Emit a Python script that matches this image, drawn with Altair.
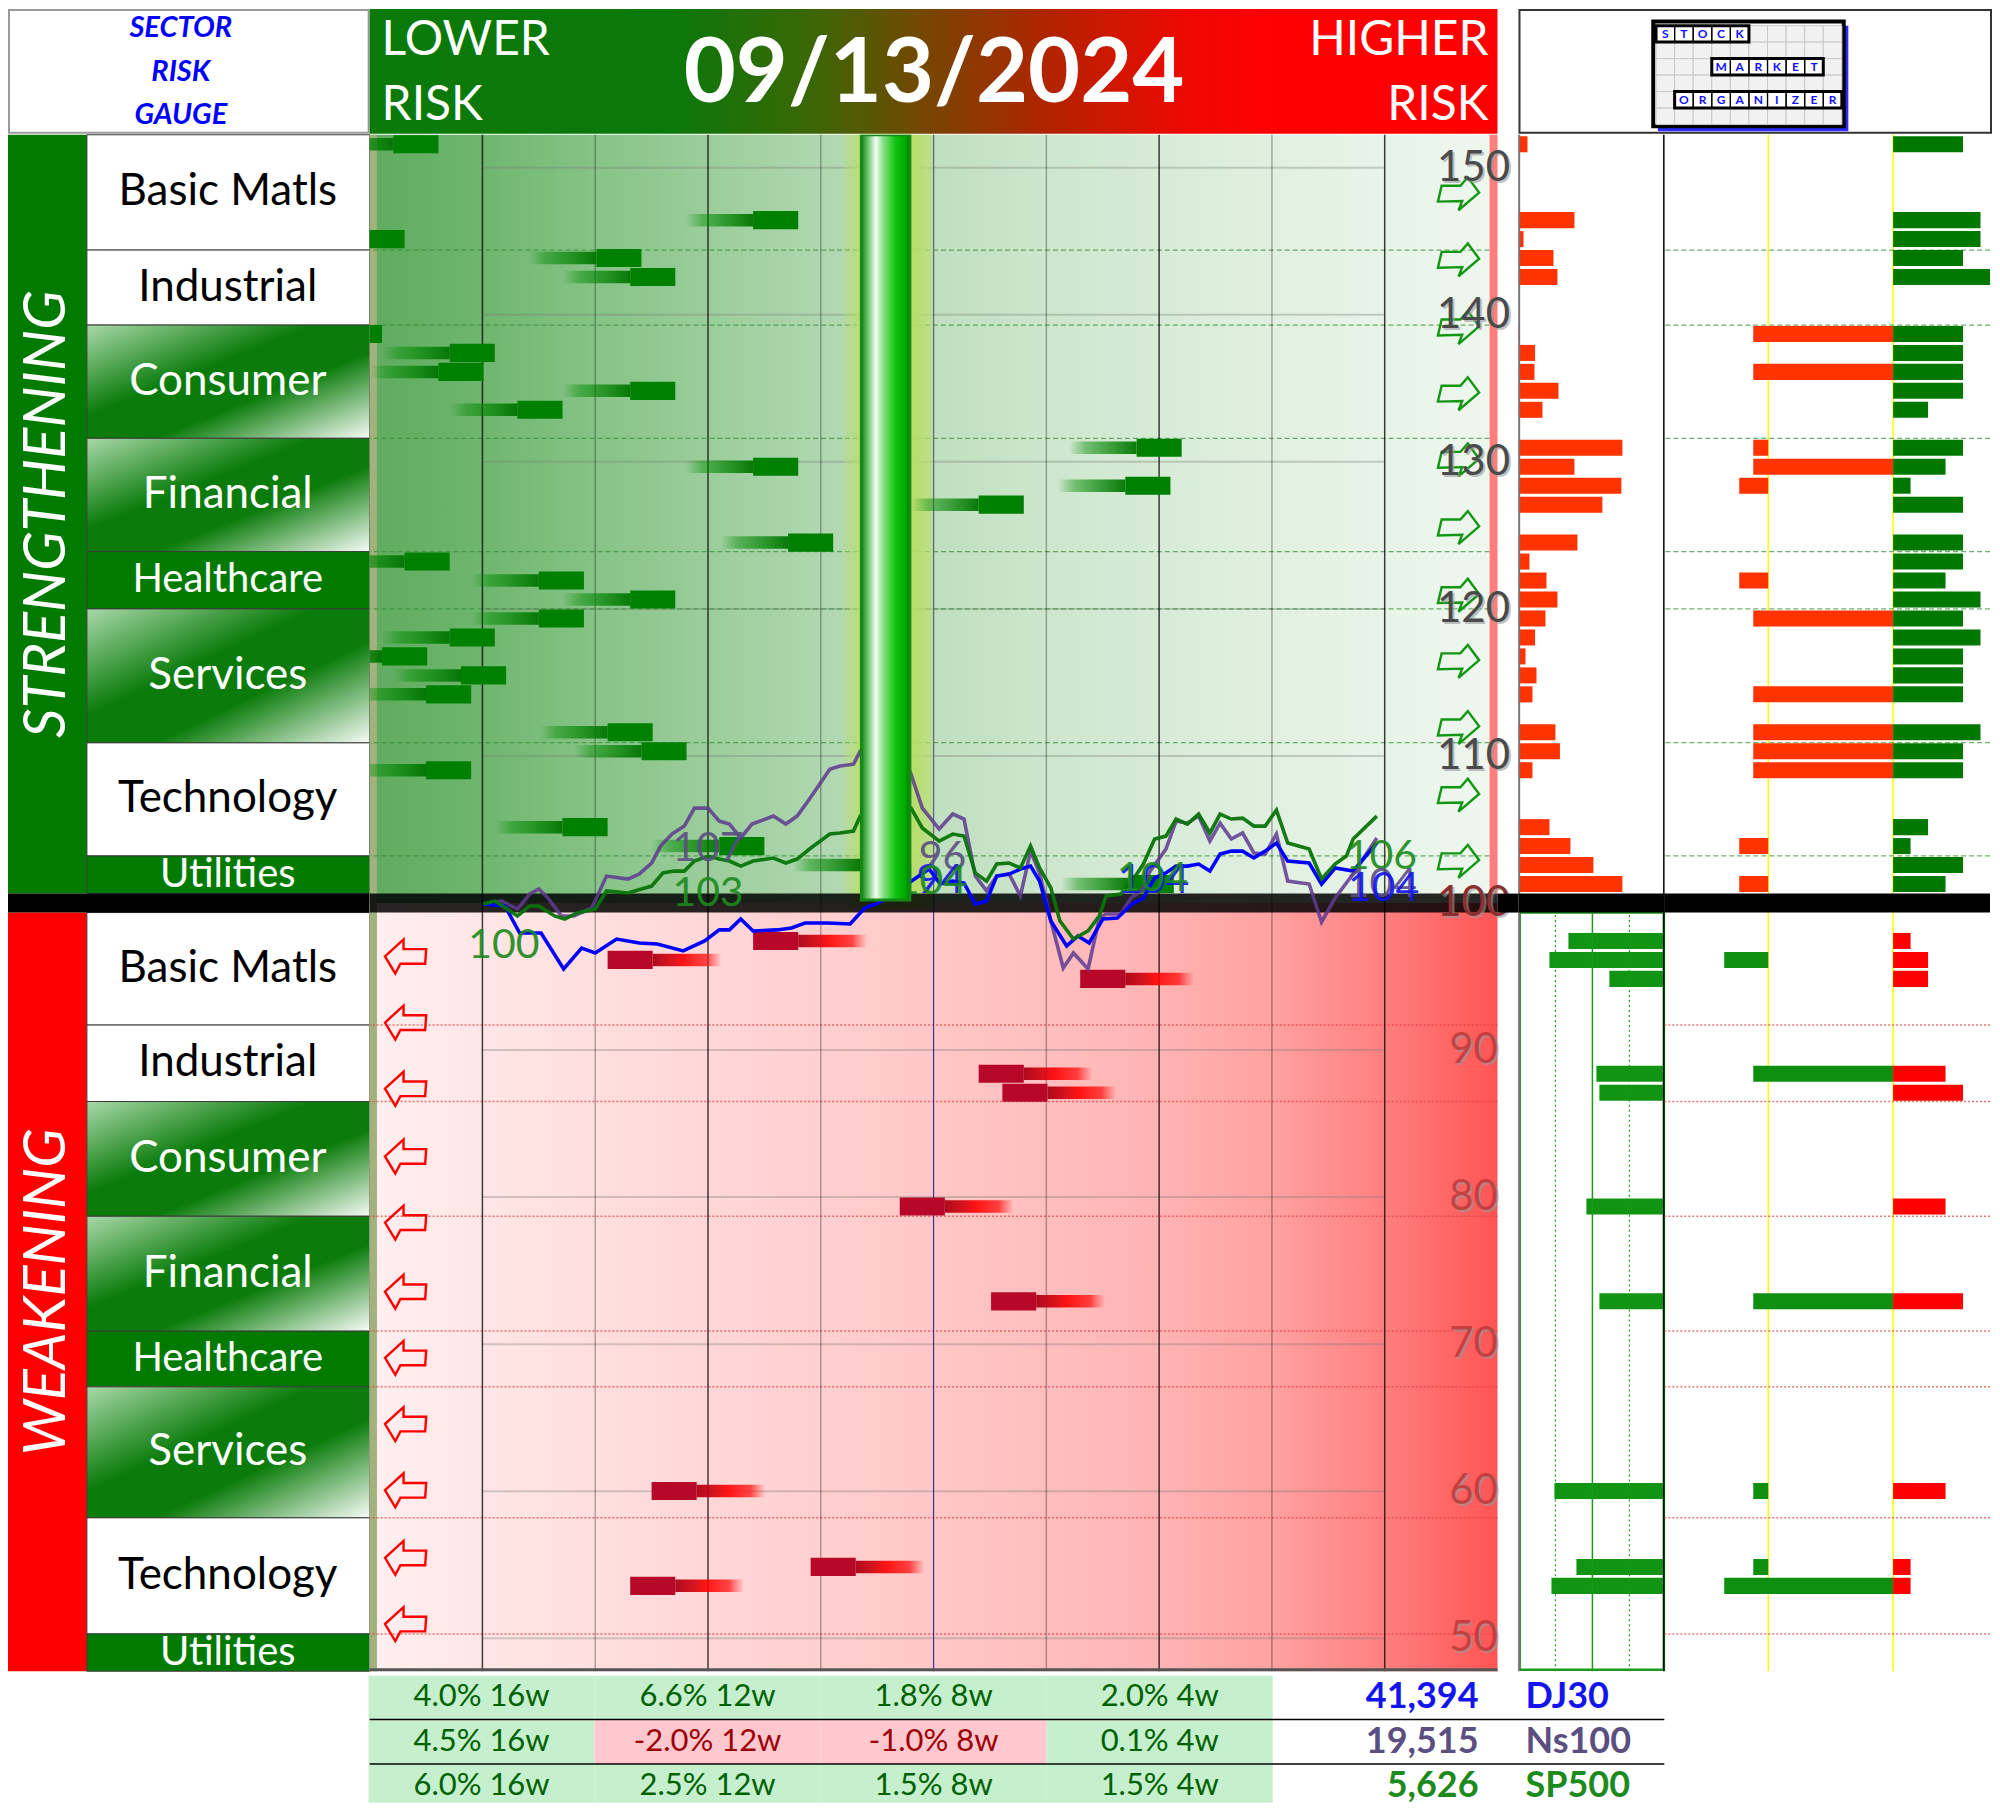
import altair as alt
import pandas as pd

FONT = "Lato"

# ---------------- layout (pixels) ----------------
W_LEFT, W_MAIN, W_GAP, W_RP1, W_RP2 = 362, 1129, 21, 146, 326
H_HEAD, H_MAIN, H_TAB = 125, 1538, 130

# ---------------- gauge geometry ----------------
Y_TOP, Y_BOT = 152.24, 47.76
NROWS = 81
ROW_H = (Y_TOP - Y_BOT) / NROWS
WEAK_OFFSET = 41
DIVIDER = [99.35, 100.64]

# ---------------- data ----------------
DATE_TEXT = "09/13/2024"
HEADER_LEFT = ["SECTOR", "RISK", "GAUGE"]

SECTORS = ["Basic Matls", "Industrial", "Consumer", "Financial", "Healthcare", "Services", "Technology", "Utilities"]
SECTOR_STYLE = ["white", "white", "grad", "grad", "solid", "grad", "white", "solid"]
STRONG_BOUNDS = [152.24, 144.4, 139.3, 131.6, 123.9, 120.0, 110.9, 103.2, 100.64]
WEAK_BOUNDS = [99.35, 91.7, 86.5, 78.7, 70.9, 67.1, 58.2, 50.3, 47.76]

GAUGE_TICKS = [150, 140, 130, 120, 110, 100, 90, 80, 70, 60, 50]
GRID_X = [0, 1, 2, 3, 4, 5, 6, 7, 8]
GRID_KIND = ["major", "minor", "major", "minor", "mid", "minor", "major", "minor", "major"]

# strengthening items (row, gauge position, risk bar, score bar)
S_ROW = [0, 4, 5, 6, 7, 10, 11, 12, 13, 14, 16, 17, 18, 19, 21, 22, 23, 24, 25, 26, 27, 28, 29, 31, 32, 33, 36, 37, 38, 39]
S_POS = [-0.79, 2.40, -1.09, 1.01, 1.31, -1.29, -0.29, -0.39, 1.31, 0.31, 5.80, 2.40, 5.70, 4.40, 2.71, -0.69, 0.50,
         1.31, 0.50, -0.29, -0.89, -0.19, -0.50, 1.11, 1.41, -0.50, 0.71, 2.10, 3.35, 5.73]
S_RISK = [0.9, 5.6, 0.5, 3.5, 3.9, 0.15, 1.66, 1.6, 4.0, 2.4, 10.4, 5.6, 10.3, 8.4, 5.9, 1.1, 2.8, 3.9, 2.7, 1.66,
          0.7, 1.8, 1.4, 3.7, 4.15, 1.4, 3.1, 5.2, 7.5, 10.4]
S_SCORE = [4, 5, 5, 4, 6, 4, 4, 4, 4, 2, 4, 3, 1, 4, 4, 4, 3, 5, 4, 5, 4, 4, 4, 5, 4, 4, 2, 1, 4, 3]
S_NEG_ROW = [10, 12, 16, 17, 18, 23, 25, 29, 31, 32, 33, 37, 39]
S_NEG_FROM = [-8.0, -8.0, -8.0, -8.0, -8.8, -8.8, -8.0, -8.0, -8.0, -8.0, -8.0, -8.8, -8.8]
S_NEG_TO = [0, 0, -7.14, 0, -7.14, -7.14, 0, 0, 0, 0, 0, -7.14, -7.14]

# weakening items
W_ROW = [1, 2, 3, 8, 9, 15, 20, 30, 34, 35]
W_POS = [2.40, 1.11, 5.30, 4.40, 4.61, 3.70, 4.51, 1.50, 2.91, 1.31]
W_RISK = [9.6, 11.5, 5.5, 6.8, 6.5, 7.8, 6.5, 11.0, 8.8, 11.3]
W_SCORE = [1, 2, 2, 3, 4, 3, 4, 3, 1, 1]
W_NEG_ROW = [2, 8, 20, 30, 34, 35]
W_NEG_FROM = [-9.66, -8.0, -8.0, -8.0, -8.0, -9.66]
W_NEG_TO = [-7.14, 0, 0, -7.14, -7.14, 0]

GAUGE_READING = 152.24
GAUGE_BASE = 100.2
GAUGE_SPAN = [3.36, 3.79]
GLOW_SPAN = [3.2, 4.0]
YELLOW_MARKS = [-7.14, 0]

ARROW_UP_Y = [148.2, 143.7, 139.1, 134.6, 130.1, 125.5, 120.9, 116.4, 111.9, 107.3, 102.8]
ARROW_DN_Y = [96.4, 91.9, 87.4, 82.8, 78.3, 73.6, 69.1, 64.6, 60.1, 55.5, 51.0]

NS_X = [0.01, 0.17, 0.31, 0.42, 0.50, 0.58, 0.70, 0.81, 0.97, 1.10, 1.29, 1.39, 1.50, 1.58, 1.68, 1.79, 1.88, 2.00,
        2.10, 2.19, 2.29, 2.39, 2.58, 2.69, 2.79, 2.90, 3.08, 3.17, 3.29, 3.35, 3.52, 3.70, 3.80, 3.90, 4.05, 4.17,
        4.27, 4.37, 4.47, 4.56, 4.67, 4.77, 4.86, 4.94, 5.04, 5.15, 5.24, 5.37, 5.47, 5.53, 5.66, 5.75, 5.84, 5.92,
        6.06, 6.15, 6.25, 6.35, 6.45, 6.54, 6.64, 6.74, 6.84, 6.94, 7.04, 7.14, 7.33, 7.44, 7.56, 7.72, 7.93]
NS_Y = [99.93, 100.14, 99.59, 100.61, 100.95, 100.34, 99.12, 99.12, 99.66, 101.83, 101.63, 101.97, 102.72, 103.87,
        104.69, 105.23, 106.45, 106.45, 105.57, 105.37, 104.42, 105.37, 105.91, 105.37, 105.91, 107.07, 109.10,
        109.31, 109.44, 110.33, 111.0, 110.3, 108.76, 106.45, 105.03, 106.05, 105.71, 101.83, 100.82, 101.83,
        101.97, 100.48, 103.53, 102.04, 98.78, 95.58, 96.60, 95.52, 98.98, 99.25, 99.25, 100.34, 100.82, 102.17,
        103.67, 105.57, 105.43, 105.91, 104.21, 105.43, 104.35, 104.76, 103.40, 103.33, 104.69, 101.49, 101.29,
        98.71, 100.34, 101.97, 104.42]
SP_X = [0.01, 0.11, 0.31, 0.42, 0.50, 0.64, 0.73, 0.84, 1.00, 1.10, 1.29, 1.50, 1.60, 1.70, 1.79, 1.88, 2.00, 2.10,
        2.19, 2.29, 2.40, 2.58, 2.69, 2.79, 2.90, 3.08, 3.17, 3.29, 3.35, 3.56, 3.80, 3.90, 4.05, 4.17, 4.27, 4.37,
        4.47, 4.56, 4.67, 4.77, 4.86, 4.94, 5.04, 5.12, 5.24, 5.37, 5.47, 5.53, 5.66, 5.76, 5.86, 5.96, 6.06, 6.15,
        6.25, 6.35, 6.45, 6.54, 6.64, 6.74, 6.84, 6.94, 7.04, 7.14, 7.33, 7.44, 7.56, 7.66, 7.72, 7.93]
SP_Y = [99.93, 100.14, 99.12, 99.80, 99.80, 99.12, 98.91, 99.32, 99.59, 100.82, 100.68, 101.15, 102.04, 102.17,
        102.17, 102.85, 103.19, 102.99, 102.85, 102.51, 102.85, 103.06, 102.72, 102.99, 103.67, 104.69, 104.76,
        104.89, 105.91, 106.9, 106.45, 105.10, 104.21, 104.69, 104.55, 102.04, 101.49, 102.65, 102.72, 102.38,
        103.87, 102.38, 101.02, 98.78, 97.55, 98.10, 99.12, 100.48, 100.61, 101.49, 102.65, 104.35, 104.55, 105.71,
        105.37, 106.05, 104.76, 106.05, 105.71, 105.77, 105.23, 105.23, 106.32, 104.08, 103.67, 101.63, 102.65,
        103.19, 104.35, 105.91]
DJ_X = [0.01, 0.20, 0.33, 0.52, 0.72, 0.88, 1.00, 1.19, 1.39, 1.55, 1.78, 1.97, 2.10, 2.19, 2.29, 2.40, 2.61, 2.74,
        2.86, 3.06, 3.26, 3.39, 3.51, 3.74, 3.96, 4.06, 4.17, 4.27, 4.37, 4.47, 4.56, 4.67, 4.77, 4.86, 4.94, 5.04,
        5.18, 5.28, 5.38, 5.50, 5.63, 5.76, 5.86, 5.96, 6.06, 6.15, 6.25, 6.35, 6.45, 6.54, 6.64, 6.74, 6.84, 6.94,
        7.04, 7.14, 7.33, 7.44, 7.56, 7.72, 7.93]
DJ_Y = [99.93, 99.80, 97.96, 97.96, 95.52, 96.94, 96.60, 97.55, 97.28, 97.21, 96.74, 97.42, 98.17, 98.17, 98.91,
        98.10, 98.17, 98.30, 98.64, 98.64, 98.57, 99.66, 100.0, 101.15, 102.31, 101.29, 101.49, 101.36, 99.93,
        100.14, 101.83, 101.97, 102.31, 102.51, 101.49, 98.78, 97.08, 97.76, 97.28, 98.91, 98.98, 99.93, 100.34,
        101.70, 102.04, 102.51, 102.51, 102.65, 102.17, 103.33, 103.53, 103.53, 103.06, 103.53, 104.08, 102.85,
        102.72, 101.29, 102.38, 102.17, 104.08]

LBL_TEXT = ["100", "107", "103", "96", "94", "104", "104", "104", "106", "104", "104"]
LBL_X = [0.19, 2.0, 2.0, 4.08, 4.06, 3.98, 5.95, 5.94, 7.97, 7.97, 7.99]
LBL_Y = [97.1, 103.7, 100.6, 103.06, 101.5, 101.4, 101.5, 101.6, 103.1, 101.2, 100.95]
LBL_SERIES = ["SP500", "Ns100", "SP500", "Ns100", "DJ30", "SP500", "DJ30", "SP500", "SP500", "Ns100", "DJ30"]

PERIODS = ["16w", "12w", "8w", "4w"]
INDEX_NAMES = ["DJ30", "Ns100", "SP500"]
INDEX_LAST = [41394, 19515, 5626]
INDEX_COLORS = ["#0000ff", "#7030a0", "#008000"]
CHANGES = {"DJ30": [4.0, 6.6, 1.8, 2.0], "Ns100": [4.5, -2.0, -1.0, 0.1], "SP500": [6.0, 2.5, 1.5, 1.5]}

LOGO_WORDS = ["STOCK", "MARKET", "ORGANIZER"]
LOGO_ROW = [0, 2, 4]
LOGO_COL = [0, 3, 1]


# ---------------- helpers ----------------
def one(**kw):
    return pd.DataFrame({k: [v] for k, v in kw.items()})


def grad(stops, x1=0, y1=0, x2=1, y2=0):
    return alt.LinearGradient(gradient="linear", x1=x1, y1=y1, x2=x2, y2=y2,
                              stops=[alt.GradientStop(offset=o, color=c) for o, c in stops])


YS = alt.Scale(domain=[Y_BOT, Y_TOP], nice=False, zero=False)


def Yq(f):
    return alt.Y(f"{f}:Q", scale=YS, axis=None)


def make_x(scale):
    return lambda f: alt.X(f"{f}:Q", scale=scale, axis=None)


def row_top(offset=0):
    return f"{Y_TOP} - {ROW_H:.6f} * (datum.row + {offset})"


def band(x0, x1, opacity=1.0):
    return alt.Chart(one(y0=DIVIDER[0], y1=DIVIDER[1])).mark_rect(color="#000000", opacity=opacity).encode(
        x=alt.value(x0), x2=alt.value(x1), y=Yq("y0"), y2="y1")


G_STRONG = grad([(0, "#5fab5f"), (0.1, "#6fb66f"), (0.2, "#86c386"), (0.3, "#9bcd9b"), (0.4, "#afd7af"),
                 (0.5, "#bfdfbf"), (0.6, "#cde6cd"), (0.7, "#d7ebd7"), (0.8, "#e0f0e0"), (0.9, "#e8f4e8"),
                 (1, "#eff7ef")])
G_WEAK = grad([(0, "#ffefef"), (0.1, "#ffe6e6"), (0.2, "#ffdede"), (0.3, "#ffd7d7"), (0.4, "#ffcfcf"),
               (0.5, "#ffc7c7"), (0.6, "#ffbebe"), (0.7, "#ffb3b3"), (0.8, "#ffa1a1"), (0.9, "#ff7f7f"),
               (1, "#ff5454")])
G_TAIL_S = grad([(0, "rgba(0,140,0,0)"), (0.25, "rgba(0,140,0,0.45)"), (0.6, "rgba(0,130,0,0.7)"),
                 (1, "rgba(0,115,0,0.95)")])
G_TAIL_W = grad([(0, "rgba(170,0,20,0.95)"), (0.3, "rgba(215,0,10,0.9)"), (0.45, "rgba(255,0,0,0.9)"),
                 (0.8, "rgba(255,20,20,0.75)"), (1, "rgba(255,60,60,0.1)")])
G_BAR = grad([(0, "#157f15"), (0.12, "#5fbf5f"), (0.3, "#f4fff4"), (0.45, "#86e086"), (0.7, "#10c410"),
              (0.9, "#00aa00"), (1, "#007a00")])
G_GLOW = grad([(0, "rgba(185,222,105,0.15)"), (0.2, "rgba(185,222,105,0.95)"), (0.8, "rgba(185,222,105,0.95)"),
               (1, "rgba(185,222,105,0.5)")])
G_CELL = grad([(0, "#a9d8a9"), (0.4, "#0b7c0b"), (0.62, "#0b7c0b"), (1, "#f7fcf7")], 0, 0, 1, 1)
G_BANNER = grad([(0, "#0a7a0a"), (0.27, "#0b780a"), (0.4, "#3f6505"), (0.5, "#7a4400"), (0.6, "#b02400"),
                 (0.72, "#ee0900"), (0.8, "#ff0000"), (1, "#ff0000")])

RIGHT_ARROW = "M-0.82,-0.41 L0.09,-0.41 L0.45,-0.82 L1,-0.08 L0,0.78 L0.18,0.33 L-1,0.36 Z"
LEFT_ARROW = "M-1,0.02 L-0.1,-0.8 L-0.1,-0.33 L1,-0.33 L0.95,0.38 L-0.25,0.38 L-0.5,0.85 Z"

s_df = pd.DataFrame({"row": S_ROW, "pos": S_POS, "risk": S_RISK, "score": S_SCORE})
w_df = pd.DataFrame({"row": W_ROW, "pos": W_POS, "risk": W_RISK, "score": W_SCORE})
s_neg = pd.DataFrame({"row": S_NEG_ROW, "a": S_NEG_FROM, "b": S_NEG_TO})
w_neg = pd.DataFrame({"row": W_NEG_ROW, "a": W_NEG_FROM, "b": W_NEG_TO})

# ================= main gauge plot =================
XM = alt.Scale(domain=[-1, 9], nice=False, zero=False)
Xm = make_x(XM)
L = []
L.append(alt.Chart(one(x0=-1, x1=9, y0=100.0, y1=Y_TOP)).mark_rect(color=G_STRONG).encode(
    x=Xm("x0"), x2="x1", y=Yq("y0"), y2="y1"))
L.append(alt.Chart(one(x0=-1, x1=9, y0=Y_BOT, y1=100.0)).mark_rect(color=G_WEAK).encode(
    x=Xm("x0"), x2="x1", y=Yq("y0"), y2="y1"))
L.append(alt.Chart(one(x0=-1, x1=-0.935, y0=Y_BOT, y1=Y_TOP)).mark_rect(color="#a2b27d").encode(
    x=Xm("x0"), x2="x1", y=Yq("y0"), y2="y1"))
L.append(alt.Chart(pd.DataFrame({"v": [t for t in GAUGE_TICKS if t != 100]})).transform_calculate(
    xa="0", xb="8").mark_rule(color="#7a7a7a", opacity=0.35, strokeWidth=2).encode(
    y=Yq("v"), x=Xm("xa"), x2="xb"))
L.append(alt.Chart(pd.DataFrame({"v": STRONG_BOUNDS[1:-1]})).mark_rule(
    color="#2f8f2f", opacity=0.7, strokeWidth=1.2, strokeDash=[5, 3]).encode(y=Yq("v")))
L.append(alt.Chart(pd.DataFrame({"v": WEAK_BOUNDS[1:-1]})).mark_rule(
    color="#e23a3a", opacity=0.7, strokeWidth=1.5, strokeDash=[2, 2]).encode(y=Yq("v")))
grid_df = pd.DataFrame({"x": GRID_X, "kind": GRID_KIND})
L.append(alt.Chart(grid_df).transform_filter("datum.kind == 'major'").mark_rule(
    color="#000000", opacity=0.75, strokeWidth=1.5).encode(x=Xm("x")))
L.append(alt.Chart(grid_df).transform_filter("datum.kind == 'minor'").mark_rule(
    color="#000000", opacity=0.3, strokeWidth=1.5).encode(x=Xm("x")))
L.append(alt.Chart(grid_df).transform_filter("datum.kind == 'mid'").mark_rule(
    color="#2a1f9a", opacity=0.9, strokeWidth=1.2).encode(x=Xm("x")))
L.append(alt.Chart(one(x0=8.93, x1=9, y0=DIVIDER[1], y1=Y_TOP)).mark_rect(color="#ff7d7d").encode(
    x=Xm("x0"), x2="x1", y=Yq("y0"), y2="y1"))
L.append(alt.Chart(one(x0=GLOW_SPAN[0], x1=GLOW_SPAN[1], y0=99.6, y1=Y_TOP)).mark_rect(color=G_GLOW).encode(
    x=Xm("x0"), x2="x1", y=Yq("y0"), y2="y1"))
# strengthening sector markers
L.append(alt.Chart(s_df).transform_calculate(rt=row_top(0)).transform_calculate(
    xa="datum.pos - 0.6", xb="datum.pos", ya="datum.rt - 0.22", yb="datum.rt - 1.07").mark_rect(
    color=G_TAIL_S, clip=True).encode(x=Xm("xa"), x2="xb", y=Yq("ya"), y2="yb"))
L.append(alt.Chart(s_df).transform_calculate(rt=row_top(0)).transform_calculate(
    xa="datum.pos", xb="datum.pos + 0.4", ya="datum.rt - 0.03", yb="datum.rt - 1.26").mark_rect(
    color="#008000", clip=True).encode(x=Xm("xa"), x2="xb", y=Yq("ya"), y2="yb"))
# weakening sector markers
L.append(alt.Chart(w_df).transform_calculate(rt=row_top(WEAK_OFFSET)).transform_calculate(
    xa="datum.pos + 0.4", xb="datum.pos + 1.0", ya="datum.rt - 0.22", yb="datum.rt - 1.07").mark_rect(
    color=G_TAIL_W, clip=True).encode(x=Xm("xa"), x2="xb", y=Yq("ya"), y2="yb"))
L.append(alt.Chart(w_df).transform_calculate(rt=row_top(WEAK_OFFSET)).transform_calculate(
    xa="datum.pos", xb="datum.pos + 0.4", ya="datum.rt - 0.03", yb="datum.rt - 1.26").mark_rect(
    color="#b8082a", clip=True).encode(x=Xm("xa"), x2="xb", y=Yq("ya"), y2="yb"))
# arrows
L.append(alt.Chart(pd.DataFrame({"v": ARROW_UP_Y})).mark_point(
    shape=RIGHT_ARROW, size=1700, filled=False, strokeWidth=2.4, color="#139613", opacity=1).encode(
    x=alt.value(1090), y=Yq("v")))
L.append(alt.Chart(pd.DataFrame({"v": ARROW_DN_Y})).mark_point(
    shape=LEFT_ARROW, size=1700, filled=False, strokeWidth=2.4, color="#ff0000", opacity=1).encode(
    x=alt.value(36), y=Yq("v")))
# divider band
L.append(alt.Chart(one(x0=-1, x1=9, y0=DIVIDER[0], y1=DIVIDER[1])).mark_rect(
    color="#000000", opacity=0.85).encode(x=Xm("x0"), x2="x1", y=Yq("y0"), y2="y1"))
# gauge scale labels
tick_df = pd.DataFrame({"v": GAUGE_TICKS})
L.append(alt.Chart(tick_df).mark_text(font=FONT, fontSize=42, color="#9a9a9a", opacity=0.6, dx=2, dy=2).encode(
    x=alt.value(1105), y=Yq("v"), text=alt.Text("v:Q", format="d")))
L.append(alt.Chart(tick_df).transform_filter("datum.v > 100").mark_text(
    font=FONT, fontSize=42, color="#4a4a4a").encode(x=alt.value(1105), y=Yq("v"), text=alt.Text("v:Q", format="d")))
L.append(alt.Chart(tick_df).transform_filter("datum.v == 100").mark_text(
    font=FONT, fontSize=42, color="#8a2f2f").encode(x=alt.value(1105), y=Yq("v"), text=alt.Text("v:Q", format="d")))
L.append(alt.Chart(tick_df).transform_filter("datum.v < 100").mark_text(
    font=FONT, fontSize=42, color="#b83232", opacity=0.75).encode(
    x=alt.value(1105), y=Yq("v"), text=alt.Text("v:Q", format="d")))
# index lines
for xs, ys, col, op in [(NS_X, NS_Y, "#5e3a90", 0.85), (DJ_X, DJ_Y, "#0000ff", 1.0), (SP_X, SP_Y, "#087408", 0.95)]:
    L.append(alt.Chart(pd.DataFrame({"x": xs, "y": ys})).mark_line(
        color=col, opacity=op, strokeWidth=3.6, clip=True).encode(x=Xm("x"), y=Yq("y")))
lbl_df = pd.DataFrame({"t": LBL_TEXT, "x": LBL_X, "y": LBL_Y, "s": LBL_SERIES})
L.append(alt.Chart(lbl_df).mark_text(font=FONT, fontSize=41, opacity=0.9).encode(
    x=Xm("x"), y=Yq("y"), text="t:N",
    color=alt.Color("s:N", scale=alt.Scale(domain=INDEX_NAMES, range=["#1414f0", "#5a4f80", "#1c8a1c"]),
                    legend=None)))
# big gauge bar
L.append(alt.Chart(one(x0=GAUGE_SPAN[0], x1=GAUGE_SPAN[1], y0=GAUGE_BASE, y1=GAUGE_READING)).mark_rect(
    color=G_BAR, stroke="#138a13", strokeWidth=3, clip=True).encode(x=Xm("x0"), x2="x1", y=Yq("y0"), y2="y1"))
L.append(alt.Chart(one(x0=-1, x1=9, y0=Y_BOT, y1=Y_BOT + 0.2)).mark_rect(color="#555555").encode(
    x=Xm("x0"), x2="x1", y=Yq("y0"), y2="y1"))
B2 = alt.layer(*L).properties(width=W_MAIN, height=H_MAIN)

# ================= sector label column =================
sec_rows = []
for i, name in enumerate(SECTORS):
    sec_rows.append({"name": name, "style": SECTOR_STYLE[i], "y0": STRONG_BOUNDS[i + 1], "y1": STRONG_BOUNDS[i]})
    sec_rows.append({"name": name, "style": SECTOR_STYLE[i], "y0": WEAK_BOUNDS[i + 1], "y1": WEAK_BOUNDS[i]})
sec_df = pd.DataFrame(sec_rows)
LB = []
LB.append(alt.Chart(one(y0=STRONG_BOUNDS[-1], y1=STRONG_BOUNDS[0])).mark_rect(color="#007a00").encode(
    x=alt.value(0), x2=alt.value(79), y=Yq("y0"), y2="y1"))
LB.append(alt.Chart(one(y0=WEAK_BOUNDS[-1], y1=WEAK_BOUNDS[0])).mark_rect(color="#ff0000").encode(
    x=alt.value(0), x2=alt.value(79), y=Yq("y0"), y2="y1"))
for style, fill in [("white", "#ffffff"), ("solid", "#007a00"), ("grad", G_CELL)]:
    LB.append(alt.Chart(sec_df).transform_filter(f"datum.style == '{style}'").mark_rect(
        color=fill, stroke="#3a3a3a", strokeWidth=1).encode(
        x=alt.value(79), x2=alt.value(W_LEFT), y=Yq("y0"), y2="y1"))
for cond, col, size in [("datum.style == 'white'", "#000000", 44), ("datum.style == 'grad'", "#ffffff", 44),
                        ("datum.style == 'solid'", "#ffffff", 40)]:
    LB.append(alt.Chart(sec_df).transform_filter(cond).transform_calculate(ym="(datum.y0 + datum.y1) / 2").mark_text(
        font=FONT, fontSize=size, color=col).encode(x=alt.value(220), y=Yq("ym"), text="name:N"))
side_df = pd.DataFrame({"t": ["STRENGTHENING", "WEAKENING"],
                        "y": [(STRONG_BOUNDS[0] + STRONG_BOUNDS[-1]) / 2, (WEAK_BOUNDS[0] + WEAK_BOUNDS[-1]) / 2]})
LB.append(alt.Chart(side_df).mark_text(font=FONT, fontSize=58, fontStyle="italic", color="#ffffff", angle=270).encode(
    x=alt.value(40), y=Yq("y"), text="t:N"))
LB.append(band(0, W_LEFT))
B1 = alt.layer(*LB).properties(width=W_LEFT, height=H_MAIN)

B3 = band(0, W_GAP).properties(width=W_GAP, height=H_MAIN)

# ================= right panel: risk bars =================
XC1 = alt.Scale(domain=[0, 14.6], nice=False, zero=False)
Xc1 = make_x(XC1)
C1L = []
C1L.append(alt.Chart(s_df).transform_calculate(rt=row_top(0)).transform_calculate(
    xa="0", xb="datum.risk", ya="datum.rt - 0.1", yb="datum.rt - 1.19").mark_rect(color="#ff3300").encode(
    x=Xc1("xa"), x2="xb", y=Yq("ya"), y2="yb"))
C1L.append(alt.Chart(w_df).transform_calculate(rt=row_top(WEAK_OFFSET)).transform_calculate(
    xa="14.6 - datum.risk", xb="14.6", ya="datum.rt - 0.1", yb="datum.rt - 1.19").mark_rect(
    color="#119411").encode(x=Xc1("xa"), x2="xb", y=Yq("ya"), y2="yb"))
vl_df = pd.DataFrame({"x": [3.7, 7.4, 11.1], "kind": ["dot", "solid", "dot"], "y0": [Y_BOT] * 3,
                      "y1": [DIVIDER[0]] * 3})
C1L.append(alt.Chart(vl_df).transform_filter("datum.kind == 'dot'").mark_rule(
    color="#1a9a1a", strokeWidth=1.2, strokeDash=[2, 3]).encode(x=Xc1("x"), y=Yq("y0"), y2="y1"))
C1L.append(alt.Chart(vl_df).transform_filter("datum.kind == 'solid'").mark_rule(
    color="#1a9a1a", strokeWidth=1.5).encode(x=Xc1("x"), y=Yq("y0"), y2="y1"))
C1L.append(alt.Chart(one(x0=0.12, x1=14.55, y0=Y_BOT + 0.1, y1=DIVIDER[0])).mark_rect(
    fillOpacity=0, stroke="#1a9a1a", strokeWidth=2.5).encode(x=Xc1("x0"), x2="x1", y=Yq("y0"), y2="y1"))
C1L.append(alt.Chart(one(x=0.07)).mark_rule(color="#777777", strokeWidth=2).encode(x=Xc1("x")))
C1L.append(alt.Chart(one(x=14.55)).mark_rule(color="#000000", strokeWidth=1.5).encode(x=Xc1("x")))
C1L.append(band(0, W_RP1))
C1 = alt.layer(*C1L).properties(width=W_RP1, height=H_MAIN)

# ================= right panel: score bars =================
XC2 = alt.Scale(domain=[-13.086, 5.543], nice=False, zero=False)
Xc2 = make_x(XC2)
C2L = []
C2L.append(alt.Chart(pd.DataFrame({"x": YELLOW_MARKS})).mark_rule(color="#ffff00", strokeWidth=1.5).encode(
    x=Xc2("x")))
C2L.append(alt.Chart(pd.DataFrame({"v": STRONG_BOUNDS[1:-1]})).mark_rule(
    color="#2f8f2f", opacity=0.7, strokeWidth=1.2, strokeDash=[5, 3]).encode(y=Yq("v")))
C2L.append(alt.Chart(pd.DataFrame({"v": WEAK_BOUNDS[1:-1]})).mark_rule(
    color="#e23a3a", opacity=0.7, strokeWidth=1.5, strokeDash=[2, 2]).encode(y=Yq("v")))
C2L.append(alt.Chart(s_neg).transform_calculate(rt=row_top(0)).transform_calculate(
    ya="datum.rt - 0.1", yb="datum.rt - 1.19").mark_rect(color="#ff3300", clip=True).encode(
    x=Xc2("a"), x2="b", y=Yq("ya"), y2="yb"))
C2L.append(alt.Chart(s_df).transform_calculate(rt=row_top(0)).transform_calculate(
    xa="0", ya="datum.rt - 0.1", yb="datum.rt - 1.19").mark_rect(color="#007800", clip=True).encode(
    x=Xc2("xa"), x2="score", y=Yq("ya"), y2="yb"))
C2L.append(alt.Chart(w_neg).transform_calculate(rt=row_top(WEAK_OFFSET)).transform_calculate(
    ya="datum.rt - 0.1", yb="datum.rt - 1.19").mark_rect(color="#0f8f0f", clip=True).encode(
    x=Xc2("a"), x2="b", y=Yq("ya"), y2="yb"))
C2L.append(alt.Chart(w_df).transform_calculate(rt=row_top(WEAK_OFFSET)).transform_calculate(
    xa="0", ya="datum.rt - 0.1", yb="datum.rt - 1.19").mark_rect(color="#ff0000", clip=True).encode(
    x=Xc2("xa"), x2="score", y=Yq("ya"), y2="yb"))
C2L.append(band(0, W_RP2))
C2 = alt.layer(*C2L).properties(width=W_RP2, height=H_MAIN)

# ================= header =================
A1L = [alt.Chart(one(a=0)).mark_rect(fillOpacity=0, stroke="#9a9a9a", strokeWidth=2).encode(
    x=alt.value(1), x2=alt.value(W_LEFT - 1), y=alt.value(1), y2=alt.value(H_HEAD - 1))]
for word, yy in zip(HEADER_LEFT, [19, 63, 106]):
    A1L.append(alt.Chart(one(t=word)).mark_text(
        font=FONT, fontSize=29, fontWeight="bold", fontStyle="italic", color="#0000ff").encode(
        x=alt.value(173), y=alt.value(yy), text="t:N"))
A1 = alt.layer(*A1L).properties(width=W_LEFT, height=H_HEAD)

A2L = [alt.Chart(one(a=0)).mark_rect(color=G_BANNER).encode(
    x=alt.value(0), x2=alt.value(W_MAIN), y=alt.value(0), y2=alt.value(H_HEAD))]
for t, xx, yy, al in [("LOWER", 12, 32, "left"), ("RISK", 12, 97, "left"),
                      ("HIGHER", 1120, 32, "right"), ("RISK", 1120, 97, "right")]:
    A2L.append(alt.Chart(one(t=t)).mark_text(font=FONT, fontSize=48, color="#ffffff", align=al).encode(
        x=alt.value(xx), y=alt.value(yy), text="t:N"))
A2L.append(alt.Chart(one(t=DATE_TEXT)).mark_text(font=FONT, fontSize=90, fontWeight="bold", color="#ffffff").encode(
    x=alt.value(565), y=alt.value(66), text="t:N"))
A2 = alt.layer(*A2L).properties(width=W_MAIN, height=H_HEAD)

A3 = alt.Chart(one(a=0)).mark_rect(opacity=0).encode(
    x=alt.value(0), x2=alt.value(W_GAP), y=alt.value(0), y2=alt.value(H_HEAD)).properties(width=W_GAP, height=H_HEAD)

XL = alt.Scale(domain=[-7.903, 17.473], nice=False, zero=False)
YL = alt.Scale(domain=[-1.515, 6.06], nice=False, zero=False, reverse=True)
Xl = make_x(XL)


def Yl(f):
    return alt.Y(f"{f}:Q", scale=YL, axis=None)


letters = pd.DataFrame([{"c": LOGO_COL[w] + j, "r": LOGO_ROW[w], "ch": ch}
                        for w, word in enumerate(LOGO_WORDS) for j, ch in enumerate(word)])
words = pd.DataFrame([{"c0": LOGO_COL[w] - 0.5, "c1": LOGO_COL[w] + len(word) - 0.5, "r": LOGO_ROW[w]}
                      for w, word in enumerate(LOGO_WORDS)])
cells = pd.DataFrame([{"c": c, "r": r} for c in range(10) for r in range(6)])
A4L = []
A4L.append(alt.Chart(one(a=0)).mark_rect(fillOpacity=0, stroke="#333333", strokeWidth=2).encode(
    x=alt.value(1), x2=alt.value(W_RP1 + W_RP2 + 1), y=alt.value(1), y2=alt.value(H_HEAD - 1)))
A4L.append(alt.Chart(one(x0=-0.4, x1=9.85, y0=-0.5, y1=5.9)).mark_rect(color="#2b2bff").encode(
    x=Xl("x0"), x2="x1", y=Yl("y0"), y2="y1"))
A4L.append(alt.Chart(one(x0=-0.65, x1=9.6, y0=-0.75, y1=5.6)).mark_rect(
    color="#ffffff", stroke="#000000", strokeWidth=4).encode(x=Xl("x0"), x2="x1", y=Yl("y0"), y2="y1"))
A4L.append(alt.Chart(cells).transform_calculate(
    x0="datum.c - 0.5", x1="datum.c + 0.5", y0="datum.r - 0.5", y1="datum.r + 0.5").mark_rect(
    color="#f1f1f1", stroke="#c8c8c8", strokeWidth=1).encode(x=Xl("x0"), x2="x1", y=Yl("y0"), y2="y1"))
A4L.append(alt.Chart(words).transform_calculate(y0="datum.r - 0.5", y1="datum.r + 0.5").mark_rect(
    color="#ffffff", stroke="#000000", strokeWidth=3).encode(x=Xl("c0"), x2="c1", y=Yl("y0"), y2="y1"))
A4L.append(alt.Chart(letters).transform_calculate(
    x0="datum.c - 0.5", x1="datum.c + 0.5", y0="datum.r - 0.5", y1="datum.r + 0.5").mark_rect(
    fillOpacity=0, stroke="#000000", strokeWidth=1.2).encode(x=Xl("x0"), x2="x1", y=Yl("y0"), y2="y1"))
A4L.append(alt.Chart(letters).mark_text(font=FONT, fontSize=12, fontWeight="bold", color="#1010ff").encode(
    x=Xl("c"), y=Yl("r"), text="ch:N"))
A4 = alt.layer(*A4L).properties(width=W_RP1 + W_RP2, height=H_HEAD)

# ================= bottom table =================
T_ROW_H = 44.5
T_Y0 = 24
YT_MAX = (H_TAB - T_Y0) / T_ROW_H
XT = alt.Scale(domain=[-2.0946, 6.6726], nice=False, zero=False)
YT = alt.Scale(domain=[-T_Y0 / T_ROW_H, YT_MAX], nice=False, zero=False, reverse=True)
Xt = make_x(XT)


def Yt(f):
    return alt.Y(f"{f}:Q", scale=YT, axis=None)


tab_df = pd.DataFrame([{"r": r, "c": c, "p": p, "v": CHANGES[name][c]}
                       for r, name in enumerate(INDEX_NAMES) for c, p in enumerate(PERIODS)])
idx_df = pd.DataFrame({"r": [0, 1, 2], "name": INDEX_NAMES, "last": INDEX_LAST})
DL = []
DL.append(alt.Chart(tab_df).transform_calculate(
    x0="datum.c - 0.5", x1="datum.c + 0.5", y0="datum.r - 0.48",
    y1=f"min(datum.r + 0.5, {YT_MAX - 0.01:.4f})").mark_rect(clip=True).encode(
    x=Xt("x0"), x2="x1", y=Yt("y0"), y2="y1",
    color=alt.condition(alt.datum.v < 0, alt.value("#ffc7ce"), alt.value("#c6efce"))))
DL.append(alt.Chart(tab_df).transform_calculate(
    label="(datum.v < 0 ? '-' : '') + format(abs(datum.v), '.1f') + '% ' + datum.p").mark_text(
    font=FONT, fontSize=31).encode(
    x=Xt("c"), y=Yt("r"), text="label:N",
    color=alt.condition(alt.datum.v < 0, alt.value("#9c0006"), alt.value("#006100"))))
idx_color = alt.Color("name:N", scale=alt.Scale(domain=INDEX_NAMES, range=INDEX_COLORS), legend=None)
DL.append(alt.Chart(idx_df).transform_calculate(t="format(datum.last, ',')").mark_text(
    font=FONT, fontSize=36, fontWeight="bold", align="right").encode(
    x=alt.value(1472), y=Yt("r"), text="t:N", color=idx_color))
DL.append(alt.Chart(idx_df).mark_text(font=FONT, fontSize=36, fontWeight="bold", align="left").encode(
    x=alt.value(1519), y=Yt("r"), text="name:N", color=idx_color))
DL.append(alt.Chart(idx_df).transform_filter("datum.r < 2").transform_calculate(yy="datum.r + 0.5").mark_rule(
    color="#000000", strokeWidth=1.5).encode(x=alt.value(362), x2=alt.value(1658), y=Yt("yy")))
D = alt.layer(*DL).properties(width=W_LEFT + W_MAIN + W_GAP + W_RP1 + W_RP2, height=H_TAB)

# ================= assemble =================
header = alt.hconcat(A1, A2, A3, A4, spacing=0, bounds="flush")
middle = alt.hconcat(B1, B2, B3, C1, C2, spacing=0, bounds="flush")
chart = alt.vconcat(header, middle, D, spacing=0).properties(
    padding=0, background="#ffffff").configure_view(strokeWidth=0)

chart.save("out.html", embed_options={"renderer": "svg", "actions": False})
